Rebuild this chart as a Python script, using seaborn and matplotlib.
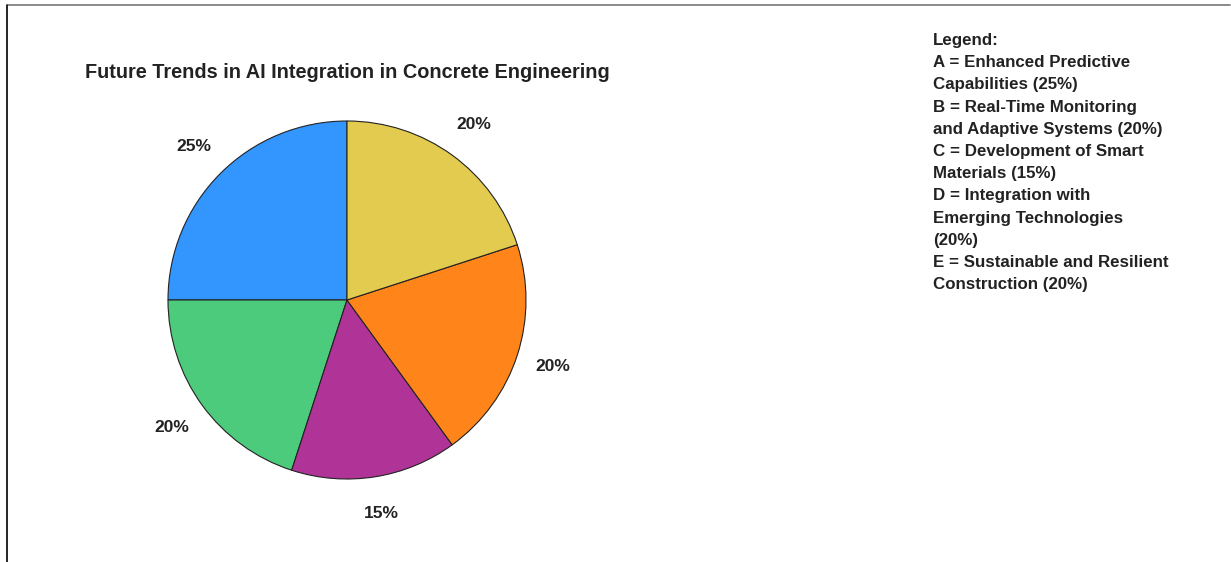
import matplotlib
matplotlib.use('Agg')
import matplotlib.pyplot as plt
from matplotlib.lines import Line2D
import seaborn as sns

# chart data
codes = ['A', 'B', 'C', 'D', 'E']
trends = ['Enhanced Predictive\nCapabilities',
          'Real-Time Monitoring\nand Adaptive Systems',
          'Development of Smart\nMaterials',
          'Integration with\nEmerging Technologies\n',
          'Sustainable and Resilient\nConstruction']
shares = [25, 20, 15, 20, 20]
colors = ['#3396FF', '#4CCB7D', '#B03497', '#FF851A', '#E3CB4F']

sns.set_theme(style='white')
plt.rcParams['font.family'] = ['Liberation Sans', 'DejaVu Sans']

W, H = 1231, 562
fig = plt.figure(figsize=(W / 100, H / 100), dpi=100)

# pie area: center ~ (347, 300) px, radius ~179 px
r = 179
cx, cy = 347, 300
ax = fig.add_axes([(cx - r) / W, (H - cy - r) / H, 2 * r / W, 2 * r / H])
ax.pie(shares, colors=colors, startangle=90, counterclock=True,
       autopct='%d%%', pctdistance=1.21, radius=1,
       wedgeprops=dict(edgecolor='#222222', linewidth=0.8),
       textprops=dict(fontsize=12.5, fontweight='bold', color='#222222'))
ax.set_xlim(-1, 1)
ax.set_ylim(-1, 1)
ax.set_aspect('equal')
ax.axis('off')

fig.text(cx / W, 1 - 73 / H, 'Future Trends in AI Integration in Concrete Engineering',
         ha='center', va='center', fontsize=14.3, fontweight='bold', color='#222222')

# legend text block
lines = ['Legend:']
for c, t, s in zip(codes, trends, shares):
    body = t.rstrip('\n')
    sep = '\n' if t.endswith('\n') else ' '
    lines.append(f'{c} = {body}{sep}({s}%)')
fig.text(933 / W, 1 - 33 / H, '\n'.join(lines), ha='left', va='top',
         fontsize=12.2, fontweight='bold', color='#222222', linespacing=1.6)

# frame lines
fig.add_artist(Line2D([8 / W, 1230 / W], [1 - 5 / H, 1 - 5 / H], color='#777777', lw=1.2))
fig.add_artist(Line2D([7 / W, 7 / W], [0, 1 - 5 / H], color='black', lw=1.2))

fig.savefig('out.png', dpi=100, facecolor='white')
